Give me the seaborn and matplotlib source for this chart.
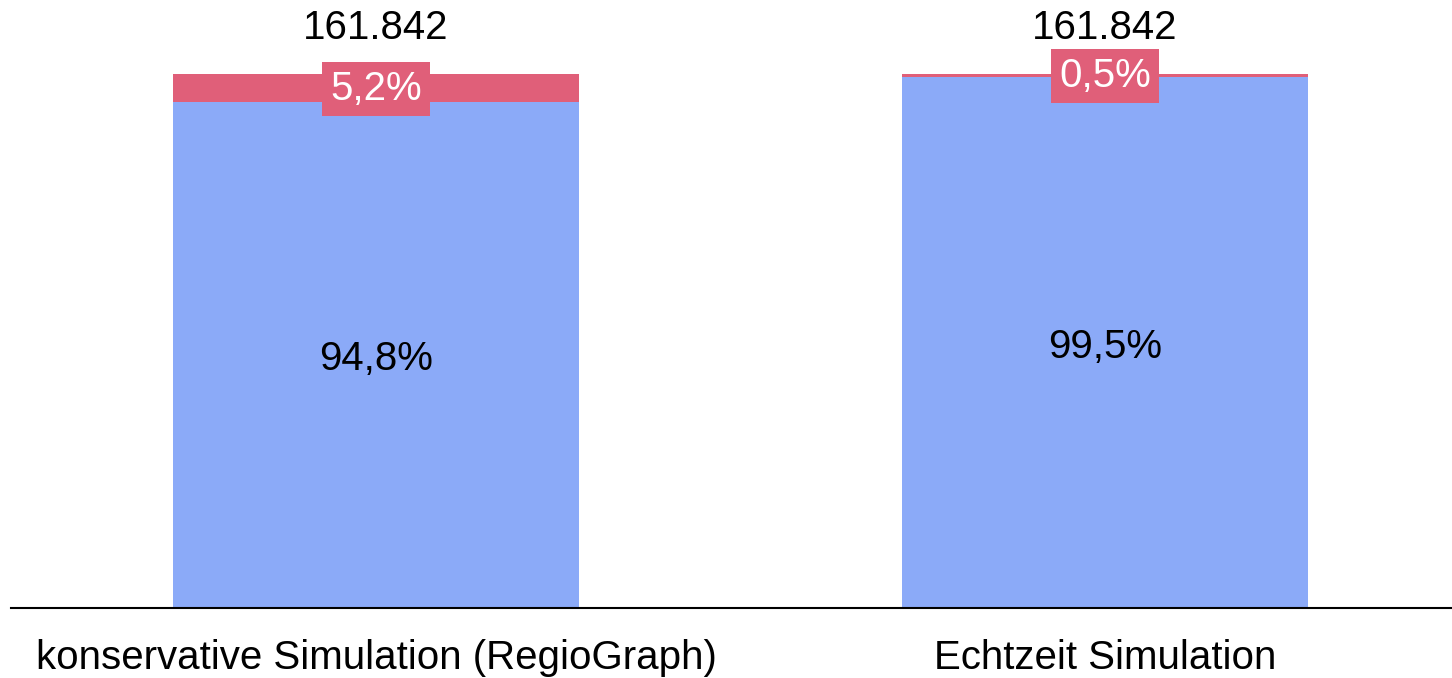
import pandas as pd
import numpy as np
import matplotlib
matplotlib.use('Agg')
import matplotlib.pyplot as plt
import seaborn as sns

categories = ['konservative Simulation (RegioGraph)', 'Echtzeit Simulation']
share_ok = [94.8, 99.5]
share_fail = [5.2, 0.5]
totals = ['161.842', '161.842']

blue = '#8BAAF8'
red = '#E05F79'

sns.set_theme(style='white')
plt.rcParams['font.family'] = ['Liberation Sans', 'DejaVu Sans']

df = pd.DataFrame({'cat': categories, 'ok': share_ok, 'fail': share_fail})
df['total'] = df['ok'] + df['fail']

fig = plt.figure(figsize=(14.52, 6.78), dpi=100)
ax = fig.add_axes([11 / 1452, 70 / 678, 1441 / 1452, 608 / 678])

# stacked: full bar in red, then the blue share on top of it
sns.barplot(data=df, x='cat', y='total', color=red, width=0.557, saturation=1,
            linewidth=0, ax=ax)
sns.barplot(data=df, x='cat', y='ok', color=blue, width=0.557, saturation=1,
            linewidth=0, ax=ax)

fs = 29
for i, row in df.iterrows():
    ax.text(i, row['ok'] / 2 - 0.8, f"{row['ok']:.1f}%".replace('.', ','),
            ha='center', va='center', fontsize=fs, color='black')
    ax.text(i, row['ok'] + row['fail'] / 2 - 0.2, f"{row['fail']:.1f}%".replace('.', ','),
            ha='center', va='center', fontsize=fs, color='white',
            bbox=dict(boxstyle='square,pad=0.2', fc=red, ec='none'))
    ax.text(i, row['total'] + 8.6, totals[i], ha='center', va='center',
            fontsize=fs, color='black')

ax.set_xlim(-0.5007, 1.476)
ax.set_ylim(0, 113.86)
ax.set_xlabel('')
ax.set_ylabel('')
ax.set_yticks([])
ax.tick_params(axis='x', length=0, labelsize=fs, labelcolor='black', pad=22)
for s in ['top', 'right', 'left']:
    ax.spines[s].set_visible(False)
ax.spines['bottom'].set_color('black')
ax.spines['bottom'].set_linewidth(1.5)

fig.savefig('out.png', dpi=100)
